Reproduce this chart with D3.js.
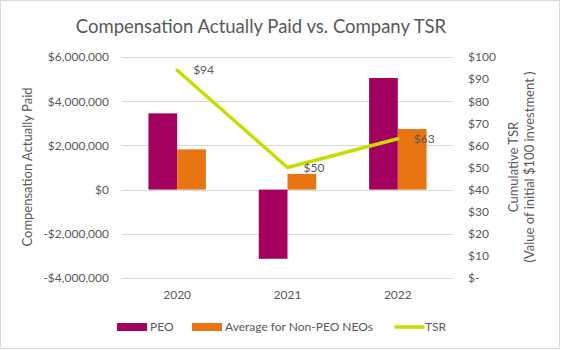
<!DOCTYPE html>
<html>
<head>
<meta charset="utf-8">
<script src="https://cdn.jsdelivr.net/npm/d3@7"></script>
<style>
  body { margin: 0; background: #fff; }
  text { font-family: Lato, "Open Sans", sans-serif; fill: #595959; }
</style>
</head>
<body>
<div id="chart"></div>
<script>
// chart data
let years = ['2020', '2021', '2022'];
let peo = [3450000, -3130000, 5050000];
let nonPeo = [1820000, 710000, 2740000];
let tsr = [94, 50, 63];
let leftTicks = [-4000000, -2000000, 0, 2000000, 4000000, 6000000];
let rightTicks = [0, 10, 20, 30, 40, 50, 60, 70, 80, 90, 100];

let width = 561;
let height = 350;
let plot = {left: 122, right: 453, top: 57, bottom: 278};

let colors = {peo: '#A3005F', nonPeo: '#E87511', tsr: '#CADB00'};

let svg = d3.select('#chart')
    .append('svg')
    .attr('width', width)
    .attr('height', height);

// outer border
svg.append('rect')
    .attr('x', 0.5).attr('y', 0.5)
    .attr('width', width - 2).attr('height', height - 2)
    .attr('fill', '#fff')
    .attr('stroke', '#d9d9d9');

let xScale = d3.scaleBand()
    .domain(years)
    .range([plot.left, plot.right]);

let yLeft = d3.scaleLinear()
    .domain([-4000000, 6000000])
    .range([plot.bottom, plot.top]);

let yRight = d3.scaleLinear()
    .domain([0, 100])
    .range([plot.bottom, plot.top]);

let fmtMoney = d => (d < 0 ? '-$' : '$') + d3.format(',')(Math.abs(d));
let fmtTsr = d => d === 0 ? '$-' : '$' + d;

// gridlines
svg.append('g').selectAll('line')
    .data(leftTicks)
    .enter().append('line')
    .attr('x1', plot.left).attr('x2', plot.right)
    .attr('y1', d => Math.round(yLeft(d)) + 0.5)
    .attr('y2', d => Math.round(yLeft(d)) + 0.5)
    .attr('stroke', '#d9d9d9')
    .attr('stroke-width', 1);

// left axis
let leftAxis = svg.append('g')
    .attr('transform', 'translate(' + plot.left + ',0)')
    .call(d3.axisLeft(yLeft).tickValues(leftTicks).tickFormat(fmtMoney).tickSize(0).tickPadding(13));
leftAxis.select('.domain').remove();
leftAxis.selectAll('text').style('font-size', '12px').attr('fill', '#595959');

// right axis
let rightAxis = svg.append('g')
    .attr('transform', 'translate(' + plot.right + ',0)')
    .call(d3.axisRight(yRight).tickValues(rightTicks).tickFormat(fmtTsr).tickSize(0).tickPadding(15));
rightAxis.select('.domain').remove();
rightAxis.selectAll('text').style('font-size', '12px').attr('fill', '#595959');

// year labels
svg.append('g').selectAll('text')
    .data(years)
    .enter().append('text')
    .attr('x', d => xScale(d) + xScale.bandwidth() / 2)
    .attr('y', 299)
    .attr('text-anchor', 'middle')
    .style('font-size', '12px')
    .text(d => d);

// bars
let inner = d3.scaleBand()
    .domain(['peo', 'nonPeo'])
    .range([0, xScale.bandwidth()])
    .paddingOuter(0.92)
    .paddingInner(0);

let barRows = years.map((y, i) => ({year: y, peo: peo[i], nonPeo: nonPeo[i]}));

['peo', 'nonPeo'].forEach(key => {
    svg.append('g').selectAll('rect')
        .data(barRows)
        .enter().append('rect')
        .attr('x', d => xScale(d.year) + inner(key))
        .attr('width', inner.bandwidth())
        .attr('y', d => yLeft(Math.max(0, d[key])))
        .attr('height', d => Math.abs(yLeft(d[key]) - yLeft(0)))
        .attr('fill', colors[key]);
});

// TSR line
let line = d3.line()
    .x((d, i) => xScale(years[i]) + xScale.bandwidth() / 2)
    .y(d => yRight(d));

svg.append('path')
    .datum(tsr)
    .attr('d', line)
    .attr('fill', 'none')
    .attr('stroke', colors.tsr)
    .attr('stroke-width', 3.5)
    .attr('stroke-linejoin', 'round')
    .attr('stroke-linecap', 'round');

svg.append('g').selectAll('text')
    .data(tsr)
    .enter().append('text')
    .attr('x', (d, i) => xScale(years[i]) + xScale.bandwidth() / 2 + 16)
    .attr('y', d => yRight(d) + 4)
    .style('font-size', '12px')
    .attr('fill', '#404040')
    .text(d => '$' + d);

// title
svg.append('text')
    .attr('x', 261)
    .attr('y', 33)
    .attr('text-anchor', 'middle')
    .style('font-size', '18.5px')
    .text('Compensation Actually Paid vs. Company TSR');

// axis titles
svg.append('text')
    .attr('transform', 'translate(32,167) rotate(-90)')
    .attr('text-anchor', 'middle')
    .style('font-size', '13px')
    .text('Compensation Actually Paid');

let rightTitle = svg.append('text')
    .attr('transform', 'translate(518,167) rotate(-90)')
    .attr('text-anchor', 'middle')
    .style('font-size', '13px');
rightTitle.append('tspan').attr('x', 0).attr('dy', 0).text('Cumulative TSR');
rightTitle.append('tspan').attr('x', 0).attr('dy', 16).text('(Value of initial $100 investment )');

// legend
let legend = svg.append('g').attr('transform', 'translate(0,327)');
legend.append('rect').attr('x', 117).attr('y', -4).attr('width', 30).attr('height', 8).attr('fill', colors.peo);
legend.append('text').attr('x', 150).attr('y', 4).style('font-size', '12px').text('PEO');
legend.append('rect').attr('x', 192).attr('y', -4).attr('width', 30).attr('height', 8).attr('fill', colors.nonPeo);
legend.append('text').attr('x', 225).attr('y', 4).style('font-size', '12px').text('Average for Non-PEO NEOs');
legend.append('line').attr('x1', 396).attr('x2', 423).attr('y1', 0).attr('y2', 0)
    .attr('stroke', colors.tsr).attr('stroke-width', 3.5).attr('stroke-linecap', 'round');
legend.append('text').attr('x', 425).attr('y', 4).style('font-size', '12px').text('TSR');
</script>
</body>
</html>
